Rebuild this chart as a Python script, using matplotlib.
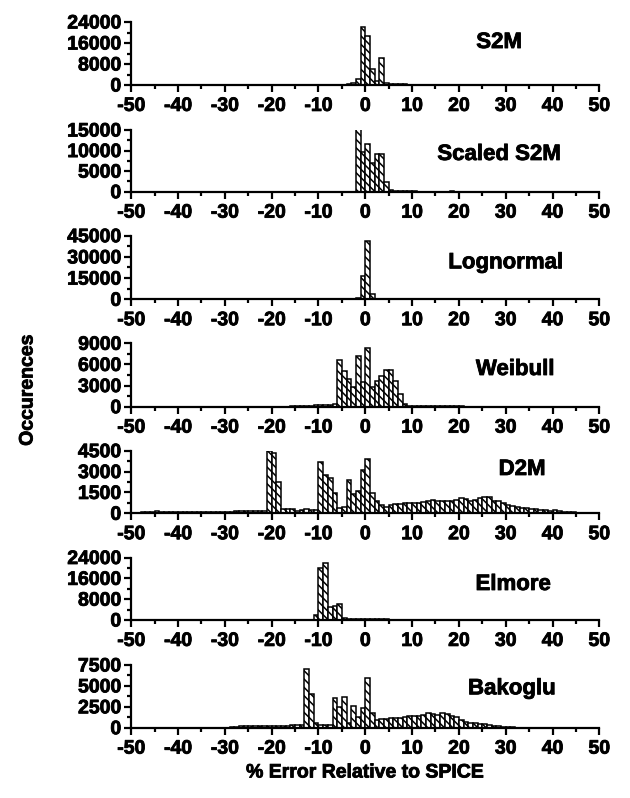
import numpy as np
import matplotlib
matplotlib.use('Agg')
import matplotlib.pyplot as plt
import matplotlib.patheffects as pe
from matplotlib.ticker import FixedLocator, MultipleLocator

plt.rcParams['font.family'] = ['Liberation Sans', 'DejaVu Sans']
plt.rcParams['font.weight'] = 'bold'
plt.rcParams['axes.unicode_minus'] = False
plt.rcParams['hatch.linewidth'] = 1.1
plt.rcParams['hatch.color'] = 'black'

# ---------------- data (counts per 1% bin, bin left edges start at *_start) ----
panel_names = ["S2M", "Scaled S2M", "Lognormal", "Weibull", "D2M", "Elmore", "Bakoglu"]

s2m_start = -4
s2m_counts = [300, 900, 2300, 22200, 18800, 6000, 1700, 10400, 600, 300, 250, 200, 200,
              180, 160, 150, 130, 120, 110, 100, 90, 80, 80, 70, 60, 50, 40, 30, 20]

scaled_start = -2
scaled_counts = [15250, 9730, 11600, 6900, 9160, 9080, 2430, 400, 150, 100, 80, 60, 50,
                 40, 30, 30, 30, 30, 30, 40, 50, 40, 30]

lognormal_start = -7
lognormal_counts = [100, 150, 200, 300, 500, 1200, 16700, 41300, 3500, 300, 100]

weibull_start = -16
weibull_counts = [30, 60, 100, 130, 160, 200, 240, 260, 300, 450,
                  6590, 5120, 3930, 2750, 7160, 3460, 8340, 2800, 3600, 4410,
                  5260, 5260, 3700, 1800, 380, 100, 50, 30, 30, 30,
                  30, 40, 50, 50, 50, 40, 30]

d2m_start = -50
d2m_counts = [30, 50, 70, 90, 120, 130, 120, 110, 110, 100,
              100, 90, 90, 100, 100, 110, 120, 110, 110, 100,
              110, 120, 130, 130, 150, 140, 150, 170, 200,
              4450, 4300, 2280, 300, 290, 290, 200, 250, 310, 250, 220,
              3700, 2780, 2540, 1450, 410, 440, 2370, 1400, 1620, 3120,
              3900, 1450, 850, 600, 480, 600, 650, 650, 770, 730,
              730, 770, 800, 850, 970, 900, 900, 900, 920, 970,
              1090, 1020, 900, 970, 1090, 1140, 1160, 900, 850, 770,
              600, 530, 460, 410, 360, 310, 290, 240, 220, 190,
              220, 150, 120, 100, 70, 40, 20, 10, 5, 0]

elmore_start = -11
elmore_counts = [1900, 19800, 21800, 5100, 5500, 6150, 700, 550, 450, 400, 350, 320,
                 280, 250, 220, 200, 180, 160, 140, 120, 110, 100, 90, 80, 70, 60,
                 50, 40, 30]

bakoglu_start = -30
bakoglu_counts = [20, 60, 120, 200, 230, 240, 230, 220, 210, 220, 230, 240, 250, 260,
                  270, 280, 300, 7010, 3980, 520, 360, 360, 360, 3500, 2500, 3700,
                  600, 2590, 1240, 2390, 5900, 1710, 920, 1000, 1000, 1120, 1120,
                  1200, 1310, 1390, 1430, 1390, 1510, 1710, 1590, 1510, 1710, 1630,
                  1390, 1240, 920, 720, 600, 520, 440, 400, 320, 240, 160, 100, 60, 30]

panel_starts = [s2m_start, scaled_start, lognormal_start, weibull_start,
                d2m_start, elmore_start, bakoglu_start]
panel_counts = [s2m_counts, scaled_counts, lognormal_counts, weibull_counts,
                d2m_counts, elmore_counts, bakoglu_counts]

y_max = [24000, 15000, 45000, 9000, 4500, 24000, 7500]
y_step = [8000, 5000, 15000, 3000, 1500, 8000, 2500]
x_ticks = [-50, -40, -30, -20, -10, 0, 10, 20, 30, 40, 50]

x_label = "% Error Relative to SPICE"
y_label = "Occurences"

# ---------------- layout ----------------------------------------------------
W, H = 630, 798
fig = plt.figure(figsize=(W / 100, H / 100), dpi=100)

left_px, right_px = 131.3, 599.3
tops_px = [22, 130, 235.7, 343.3, 450.7, 557.5, 665]
bots_px = [85, 191.7, 299.3, 406.7, 513.3, 620, 727.7]
label_pos = [(0.786, 0.587), (0.786, 0.514), (0.80, 0.487), (0.82, 0.50),
             (0.835, 0.612), (0.816, 0.48), (0.813, 0.533)]

heavy = [pe.withStroke(linewidth=0.6, foreground='black')]

for i, name in enumerate(panel_names):
    ax = fig.add_axes([left_px / W, 1 - bots_px[i] / H,
                       (right_px - left_px) / W, (bots_px[i] - tops_px[i]) / H])
    counts = np.array(panel_counts[i], dtype=float)
    bins = panel_starts[i] + np.arange(len(counts))
    ax.bar(bins, counts, width=1.0, align='edge', facecolor='white',
           edgecolor='black', linewidth=1.1, hatch='\\\\\\\\')
    ax.set_xlim(-50, 50)
    ax.set_ylim(0, y_max[i])
    ax.spines['top'].set_visible(False)
    ax.spines['right'].set_visible(False)
    ax.spines['left'].set_linewidth(1.6)
    ax.spines['bottom'].set_linewidth(1.6)
    ax.xaxis.set_major_locator(FixedLocator(x_ticks))
    ax.xaxis.set_minor_locator(MultipleLocator(5))
    yt = list(range(0, y_max[i] + 1, y_step[i]))
    ax.yaxis.set_major_locator(FixedLocator(yt))
    ax.yaxis.set_minor_locator(MultipleLocator(y_step[i] / 2))
    ax.set_xticklabels([str(t) for t in x_ticks])
    ax.set_yticklabels([str(t) for t in yt])
    ax.tick_params(which='major', direction='out', length=4.8, width=1.6,
                   labelsize=14)
    ax.tick_params(which='minor', direction='out', length=3, width=1.6)
    ax.tick_params(axis='x', which='major', pad=4.5)
    ax.tick_params(axis='y', which='major', pad=2.5)
    for lab in ax.get_xticklabels() + ax.get_yticklabels():
        lab.set_fontweight('bold')
        lab.set_path_effects(heavy)
    ax.text(label_pos[i][0], label_pos[i][1], name, transform=ax.transAxes,
            ha='center', va='baseline', fontsize=16, fontweight='bold',
            path_effects=heavy)

fig.text(28 / W, 1 - 390 / H, y_label, rotation=90, ha='center', va='center',
         fontsize=14, fontweight='bold', path_effects=heavy)
fig.text(365 / W, 1 - 773 / H, x_label, ha='center', va='center',
         fontsize=14, fontweight='bold', path_effects=heavy)

fig.savefig('out.png', dpi=100)
